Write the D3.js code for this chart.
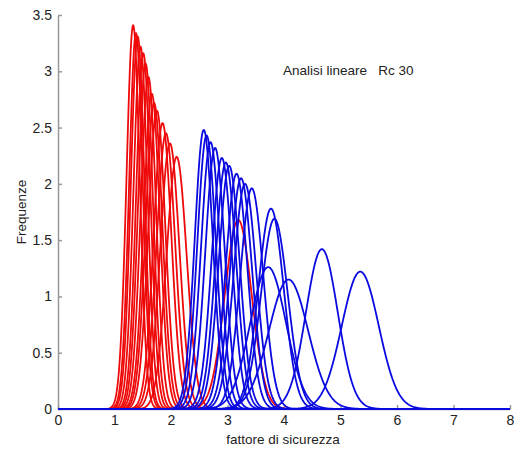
<!DOCTYPE html>
<html><head><meta charset="utf-8">
<script src="https://cdn.jsdelivr.net/npm/d3@7"></script>
<style>body{margin:0;background:#fff}svg{display:block}text{font-family:"Liberation Sans",Arial,sans-serif}</style>
</head><body><svg id="c" width="518" height="453"></svg>
<script>
// Mean and peak height of each distribution curve
const redMeans = [1.33,1.38,1.41,1.46,1.51,1.55,1.60,1.66,1.70,1.75,1.85,1.91,1.98,2.10,3.19];
const redPeaks = [3.41,3.34,3.31,3.22,3.16,3.07,2.95,2.80,2.72,2.65,2.54,2.45,2.36,2.24,1.68];
const blueMeans = [2.58,2.63,2.70,2.78,2.90,2.97,3.03,3.16,3.24,3.31,3.43,3.77,3.83,3.72,4.08,4.67,5.35];
const bluePeaks = [2.48,2.43,2.37,2.32,2.23,2.19,2.16,2.09,2.05,2.00,1.96,1.78,1.69,1.26,1.15,1.42,1.22];
const xTicks = [0,1,2,3,4,5,6,7,8];
const yTicks = [0,0.5,1,1.5,2,2.5,3,3.5];
const xLabel = "fattore di sicurezza";
const yLabel = "Frequenze";
const note = "Analisi lineare\u00a0\u00a0\u00a0Rc 30";

const svg = d3.select("#c");
const x = d3.scaleLinear().domain([0,8]).range([58,510]);
const y = d3.scaleLinear().domain([0,3.5]).range([409,15]);

const grid = d3.range(0, 8.0001, 0.01);
function curve(mu, peak){
  const s = 1/(peak*Math.sqrt(2*Math.PI));
  return grid.map(v => [v, peak*Math.exp(-0.5*((v-mu)/s)**2)]);
}
const line = d3.line().x(d=>x(d[0])).y(d=>y(d[1]));

// axes
const ax = svg.append("g").attr("transform","translate(0,409)")
  .call(d3.axisBottom(x).tickValues(xTicks).tickSizeInner(-4).tickSizeOuter(0).tickPadding(6).tickFormat(d3.format("d")));
const ay = svg.append("g").attr("transform","translate(58,0)")
  .call(d3.axisLeft(y).tickValues(yTicks).tickSizeInner(-4).tickSizeOuter(0).tickPadding(6).tickFormat(d=>d===0?"0":d3.format("")(d)));
[ax,ay].forEach(g=>{
  g.selectAll("path,line").attr("stroke","#999").attr("stroke-width",1.5);
  g.selectAll("text").attr("font-size",14).attr("fill","#222").attr("font-family","Liberation Sans, Arial, sans-serif");
});

const curves = svg.append("g").attr("fill","none").attr("stroke-width",1.8).attr("stroke-linejoin","round");
redMeans.forEach((m,i)=>{
  curves.append("path").attr("d", line(curve(m, redPeaks[i]))).attr("stroke","#ee0a0a");
});
blueMeans.forEach((m,i)=>{
  curves.append("path").attr("d", line(curve(m, bluePeaks[i]))).attr("stroke","#0a0ae0");
});

svg.append("text").attr("x",283).attr("y",444).attr("text-anchor","middle")
  .attr("font-size",13.5).attr("fill","#222").text(xLabel);
svg.append("text").attr("transform","translate(26,212) rotate(-90)").attr("text-anchor","middle")
  .attr("font-size",13.5).attr("fill","#222").text(yLabel);
svg.append("text").attr("x",283).attr("y",75).attr("font-size",13.5).attr("fill","#222").text(note);
</script></body></html>
